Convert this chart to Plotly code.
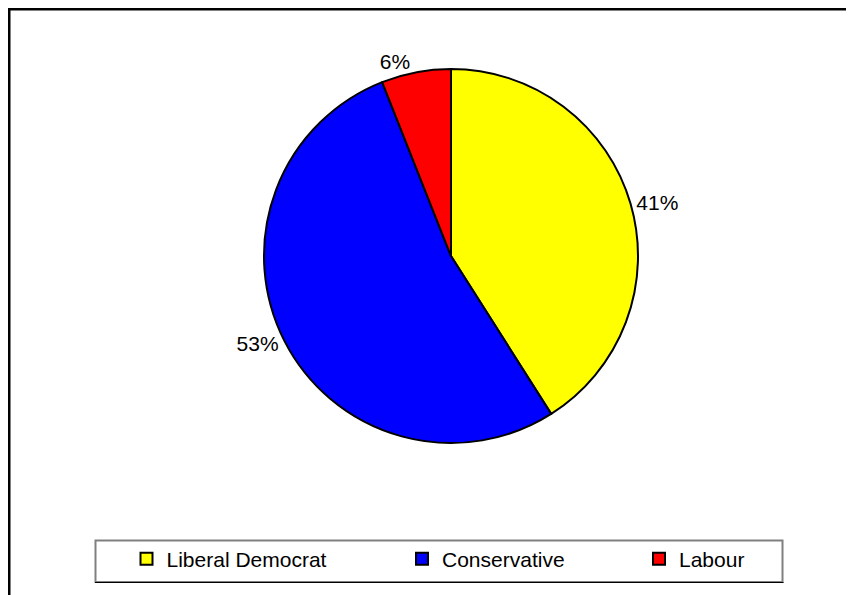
import plotly.graph_objects as go

parties = ["Liberal Democrat", "Conservative", "Labour"]
shares = [41, 53, 6]
colors = ["#FFFF00", "#0000FF", "#FF0000"]

W, H = 854, 595
FONT = "Liberation Sans, Arial, sans-serif"

# pie geometry (figure pixels)
CX, CY, HALF = 443, 248, 187

fig = go.Figure()
fig.add_trace(
    go.Pie(
        labels=parties,
        values=shares,
        sort=False,
        direction="clockwise",
        rotation=0,
        marker=dict(colors=colors, line=dict(color="black", width=2)),
        textinfo="percent",
        textposition="outside",
        texttemplate="%{percent:.0%}",
        textfont=dict(family=FONT, size=21, color="black"),
        domain=dict(x=[(CX - HALF) / W, (CX + HALF) / W],
                    y=[(H - CY - HALF) / H, (H - CY + HALF) / H]),
        showlegend=False,
        hoverinfo="label+percent",
    )
)

# legend entries, one legend per party so each can sit where the original puts it
legend_ids = ["legend", "legend2", "legend3"]
symbol_x = [139.5, 415, 652]
for name, col, lid in zip(parties, colors, legend_ids):
    fig.add_trace(
        go.Scatter(
            x=[None], y=[None], mode="markers", name=name, legend=lid,
            marker=dict(symbol="square", size=12, color=col,
                        line=dict(color="black", width=2)),
            hoverinfo="skip", showlegend=True,
        )
    )

legend_common = dict(
    orientation="h", xanchor="left", yanchor="middle",
    y=(H - 551) / H, bgcolor="rgba(0,0,0,0)", borderwidth=0,
    font=dict(family=FONT, size=21, color="black"),
)

shapes = [
    # outer chart frame (right & bottom edges fall outside the view)
    dict(type="rect", xref="paper", yref="paper",
         x0=1 / W, x1=1 - 1 / W, y0=1 / H, y1=1 - 1 / H,
         line=dict(color="black", width=3), fillcolor="rgba(0,0,0,0)", layer="above"),
    # legend box
    dict(type="rect", xref="paper", yref="paper",
         x0=87.5 / W, x1=774.5 / W, y0=(H - 574) / H, y1=(H - 532.5) / H,
         line=dict(color="#808080", width=2), fillcolor="rgba(0,0,0,0)"),
    dict(type="line", xref="paper", yref="paper",
         x0=87 / W, x1=775.5 / W, y0=(H - 574.5) / H, y1=(H - 574.5) / H,
         line=dict(color="black", width=1)),
]

layout_legends = {}
for lid, sx in zip(legend_ids, symbol_x):
    layout_legends[lid] = dict(legend_common, x=(sx - 21) / W)

fig.update_layout(
    width=W, height=H,
    margin=dict(l=0, r=0, t=0, b=0),
    paper_bgcolor="white",
    plot_bgcolor="white",
    font=dict(family=FONT, size=21, color="black"),
    xaxis=dict(visible=False),
    yaxis=dict(visible=False),
    shapes=shapes,
    **layout_legends,
)

fig.write_html("out.html")
